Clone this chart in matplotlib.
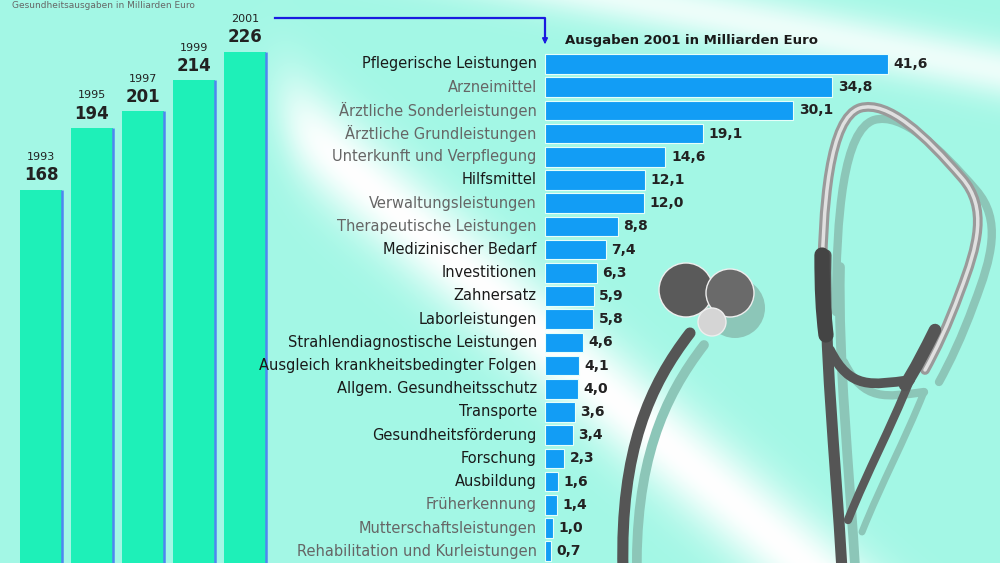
import numpy as np
import matplotlib.pyplot as plt
from matplotlib.path import Path
from matplotlib.patches import PathPatch, Circle

# Gesamtausgaben (Mrd. Euro)
jahre = ['1993', '1995', '1997', '1999', '2001']
gesamt = [168, 194, 201, 214, 226]

# Ausgaben 2001 nach Leistungsarten (Mrd. Euro)
bereiche = ['Pflegerische Leistungen', 'Arzneimittel', 'Ärztliche Sonderleistungen',
            'Ärztliche Grundleistungen', 'Unterkunft und Verpflegung', 'Hilfsmittel',
            'Verwaltungsleistungen', 'Therapeutische Leistungen', 'Medizinischer Bedarf',
            'Investitionen', 'Zahnersatz', 'Laborleistungen',
            'Strahlendiagnostische Leistungen', 'Ausgleich krankheitsbedingter Folgen',
            'Allgem. Gesundheitsschutz', 'Transporte', 'Gesundheitsförderung',
            'Forschung', 'Ausbildung', 'Früherkennung', 'Mutterschaftsleistungen',
            'Rehabilitation und Kurleistungen']
ausgaben = [41.6, 34.8, 30.1, 19.1, 14.6, 12.1, 12.0, 8.8, 7.4, 6.3, 5.9, 5.8,
            4.6, 4.1, 4.0, 3.6, 3.4, 2.3, 1.6, 1.4, 1.0, 0.7]

# Labels, die im Original heller gedruckt sind
hell = {'Arzneimittel', 'Ärztliche Sonderleistungen', 'Ärztliche Grundleistungen',
        'Unterkunft und Verpflegung', 'Verwaltungsleistungen', 'Therapeutische Leistungen',
        'Früherkennung', 'Mutterschaftsleistungen', 'Rehabilitation und Kurleistungen'}

W, H = 1000, 563
fig = plt.figure(figsize=(10, 5.63), dpi=100)

# Hintergrund mit hellem Streifen
bg = fig.add_axes([0, 0, 1, 1])
yy, xx = np.mgrid[0:H, 0:W]
def streifen(p1, p2, breite):
    d = np.array(p2, float) - np.array(p1, float)
    d /= np.hypot(*d)
    dist = (xx - p1[0]) * d[1] - (yy - p1[1]) * d[0]
    return np.exp(-(dist / breite) ** 2)
maske = 1 / (1 + np.exp(-(xx - 285) / 12))
weiss = np.clip(streifen((280, 110), (650, 430), 42) * maske
                + 0.8 * streifen((640, 0), (1000, 70), 28), 0, 1)
grund = np.array([0.64, 0.97, 0.90])
img = grund[None, None, :] * (1 - weiss[..., None]) + weiss[..., None]
bg.imshow(img, extent=(0, W, H, 0), aspect='auto')
bg.set_xlim(0, W)
bg.set_ylim(H, 0)
bg.axis('off')

# Titel oben links
bg.text(12, 5, 'Gesundheitsausgaben in Milliarden Euro', fontsize=6.5, color='#666666',
        va='center', ha='left')

# Stethoskop (Dekoration)
def kurve(pts, farbe, lw, dx=0, dy=0):
    pts = [(x + dx, y + dy) for x, y in pts]
    codes = [Path.MOVETO] + [Path.CURVE4] * (len(pts) - 1)
    bg.add_patch(PathPatch(Path(pts, codes), fill=False, color=farbe, lw=lw,
                           capstyle='round', joinstyle='round'))

schatten = '#8cc6b8'
bogen = [(822, 300), (822, 200), (830, 118), (860, 108),
         (888, 100), (925, 135), (962, 178),
         (988, 208), (978, 245), (960, 292),
         (948, 325), (936, 350), (925, 370)]
schlauch = [(690, 333), (650, 385), (620, 450), (623, 570)]
links = [(826, 255), (824, 350), (835, 450), (842, 570)]
unten = [(830, 350), (850, 390), (872, 385), (910, 380)]
v_linie = [(910, 380), (890, 430), (868, 470), (848, 520)]
for pts, lw in [(bogen, 6), (schlauch, 7), (links, 7), (unten, 6), (v_linie, 5)]:
    kurve(pts, schatten, lw, 14, 12)
kurve(schlauch, '#555555', 8)
kurve(links, '#555555', 8)
kurve(unten, '#555555', 7)
kurve(v_linie, '#5a5a5a', 6)
kurve(bogen, '#9a9a9a', 7)
kurve(bogen, '#e0e0e0', 2.5)
kurve([(822, 255), (822, 290), (823, 310), (826, 335)], '#444444', 11)
kurve([(905, 385), (915, 370), (925, 350), (935, 330)], '#555555', 9)
kopf = [(686, 290, 27, '#5a5a5a'), (730, 293, 24, '#6a6a6a'), (712, 322, 14, '#d5d5d5')]
bg.add_patch(Circle((735, 308), 30, color=schatten, lw=0))
for (cx, cy, r, c) in kopf:
    bg.add_patch(Circle((cx, cy), r, facecolor=c, edgecolor='#eeeeee', lw=1))

# Verbindungslinie mit Pfeil
bg.plot([275, 545, 545], [18, 18, 40], color='#1a1ae0', lw=1.6)
bg.annotate('', xy=(545, 47), xytext=(545, 38),
            arrowprops=dict(arrowstyle='-|>', color='#1a1ae0', lw=1.2, mutation_scale=8))

# Linke Säulen
ax1 = fig.add_axes([0, 0, 270 / W, 1])
ax1.patch.set_alpha(0)
x = np.arange(len(jahre))
breite = 0.82
ax1.bar(x, gesamt, width=breite, color='#1ef0b8', zorder=2)
ax1.vlines(x + breite / 2, 0, gesamt, color='#4f86f0', lw=1.8, zorder=3)
for xi, j, g in zip(x, jahre, gesamt):
    ax1.annotate(g, (xi, g), xytext=(0, 4), textcoords='offset points',
                 ha='center', va='bottom', fontsize=12, fontweight='bold', color='#222222')
    ax1.annotate(j, (xi, g), xytext=(0, 20), textcoords='offset points',
                 ha='center', va='bottom', fontsize=8, color='#222222')
ax1.set_xlim(-41 / 51, (270 - 41) / 51)
ax1.set_ylim(11.3, 247.8)
ax1.axis('off')

# Rechte Balken
ax2 = fig.add_axes([545 / W, 0, (W - 545) / W, 1])
ax2.patch.set_alpha(0)
y = np.arange(len(bereiche))
ax2.barh(y, ausgaben, height=0.84, color='#129df5', edgecolor='#e6fffa', lw=0.8, zorder=2)
ax2.set_xlim(0, (W - 545) / 8.25)
ax2.set_ylim((H - 64) / 23.2, -64 / 23.2)
for yi, b, a in zip(y, bereiche, ausgaben):
    farbe = '#666666' if b in hell else '#1a1a1a'
    ax2.annotate(b, (0, yi), xytext=(-6, 0), textcoords='offset points',
                 ha='right', va='center', fontsize=10.5, color=farbe)
    ax2.annotate(f'{a:.1f}'.replace('.', ','), (a, yi), xytext=(4, 0),
                 textcoords='offset points', ha='left', va='center',
                 fontsize=10, fontweight='bold', color='#222222')
ax2.text(20 / 8.25, -1.0, 'Ausgaben 2001 in Milliarden Euro', ha='left', va='center',
         fontsize=9.5, fontweight='bold', color='#1a1a1a')
ax2.axis('off')

fig.savefig('out.png', dpi=100)
